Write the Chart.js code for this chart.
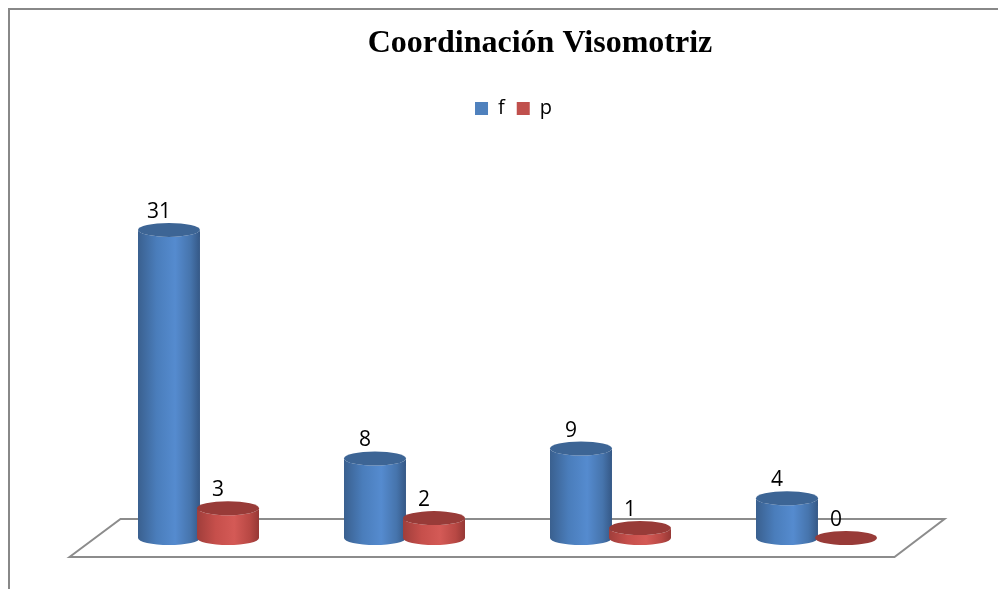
<!DOCTYPE html>
<html>
<head>
<meta charset="utf-8">
<script src="https://cdn.jsdelivr.net/npm/chart.js@4/dist/chart.umd.min.js"></script>
<style>
  html, body { margin: 0; padding: 0; background: #ffffff; overflow: hidden; }
  #wrap { position: relative; width: 998px; height: 589px; }
</style>
</head>
<body>
<div id="wrap"><canvas id="c" width="998" height="589"></canvas></div>
<script>
// ---- data ----
const chartTitle = 'Coordinación Visomotriz';
const categories = ['1', '2', '3', '4'];
const seriesNames = ['f', 'p'];
const fValues = [31, 8, 9, 4];
const pValues = [3, 2, 1, 0];

// ---- styles ----
const legendColors = ['#4F81BD', '#C0504D'];
const bodyStops = [
  [[0, '#3a608f'], [0.3, '#4a7dbb'], [0.6, '#558bcf'], [0.85, '#4674ac'], [1, '#355886']],
  [[0, '#a03e3b'], [0.3, '#c64f4b'], [0.6, '#d45a56'], [0.85, '#b84844'], [1, '#963835']]
];
const topColors = ['#3d6595', '#983b38'];

const cylinderPlugin = {
  id: 'cylinders',
  afterLayout(chart) {
    if (chart.titleBlock) {
      chart.titleBlock.left += 26.5;
      chart.titleBlock.right += 26.5;
    }
  },
  beforeDraw(chart) {
    const ctx = chart.ctx;
    ctx.save();
    ctx.fillStyle = '#ffffff';
    ctx.fillRect(0, 0, chart.width, chart.height);
    ctx.strokeStyle = '#888888';
    ctx.lineWidth = 2;
    ctx.beginPath();
    ctx.moveTo(9, chart.height);
    ctx.lineTo(9, 9);
    ctx.lineTo(chart.width, 9);
    ctx.stroke();
    ctx.restore();
  },
  beforeDatasetsDraw(chart) {
    const ctx = chart.ctx;
    const yb = chart.scales.y.getPixelForValue(0);
    const {left, right} = chart.chartArea;
    ctx.save();
    ctx.strokeStyle = '#8c8c8c';
    ctx.lineWidth = 2;
    ctx.beginPath();
    ctx.moveTo(left - 26, yb + 19);
    ctx.lineTo(left + 25, yb - 19);
    ctx.lineTo(right + 25, yb - 19);
    ctx.lineTo(right - 25, yb + 19);
    ctx.closePath();
    ctx.stroke();
    ctx.restore();
  },
  beforeDatasetDraw() {
    return false;
  },
  afterDatasetsDraw(chart) {
    const ctx = chart.ctx;
    const ry = 7;
    ctx.save();
    chart.data.datasets.forEach((ds, di) => {
      const meta = chart.getDatasetMeta(di);
      meta.data.forEach((el, j) => {
        const x = el.x, top = el.y, base = el.base, rx = el.width / 2;
        // body
        if (base - top > 0.5) {
          const g = ctx.createLinearGradient(x - rx, 0, x + rx, 0);
          bodyStops[di].forEach(s => g.addColorStop(s[0], s[1]));
          ctx.fillStyle = g;
          ctx.beginPath();
          ctx.moveTo(x - rx, top);
          ctx.lineTo(x - rx, base);
          ctx.ellipse(x, base, rx, ry, 0, Math.PI, 0, true);
          ctx.lineTo(x + rx, top);
          ctx.ellipse(x, top, rx, ry, 0, 0, Math.PI, false);
          ctx.closePath();
          ctx.fill();
        }
        // top
        ctx.fillStyle = topColors[di];
        ctx.beginPath();
        ctx.ellipse(x, top, rx, ry, 0, 0, Math.PI * 2);
        ctx.fill();
      });
    });
    // labels
    ctx.fillStyle = '#000000';
    ctx.font = '21px "Open Sans"';
    ctx.textAlign = 'center';
    ctx.textBaseline = 'alphabetic';
    chart.data.datasets.forEach((ds, di) => {
      const meta = chart.getDatasetMeta(di);
      meta.data.forEach((el, j) => {
        ctx.fillText(String(ds.data[j]), el.x - 10, el.y - 12);
      });
    });
    ctx.restore();
  }
};

const hiddenAxis = (w, pos) => ({
  type: 'linear',
  position: pos,
  display: true,
  ticks: { display: false },
  grid: { display: false, drawTicks: false },
  border: { display: false },
  afterFit: s => { s.width = w; }
});

const yLeft = hiddenAxis(66.5, 'left');
yLeft.min = 0;
yLeft.max = 41.2;
const yRight = hiddenAxis(78.5, 'right');

new Chart(document.getElementById('c'), {
  type: 'bar',
  data: {
    labels: categories,
    datasets: [
      { label: seriesNames[0], data: fValues, backgroundColor: legendColors[0], borderWidth: 0 },
      { label: seriesNames[1], data: pValues, backgroundColor: legendColors[1], borderWidth: 0 }
    ]
  },
  options: {
    responsive: false,
    animation: false,
    categoryPercentage: 0.573,
    barPercentage: 1.05,
    layout: { padding: { left: 29, right: 0, top: 0, bottom: 51 } },
    scales: {
      x: { display: false, offset: true },
      y: yLeft,
      y2: yRight
    },
    plugins: {
      title: {
        display: true,
        text: chartTitle,
        color: '#000000',
        font: { family: '"Liberation Serif", "Times New Roman", serif', size: 32, weight: 'bold', lineHeight: 1.25 },
        padding: { top: 24, bottom: 22.5 }
      },
      legend: {
        display: true,
        position: 'top',
        labels: {
          color: '#000000',
          font: { family: '"Open Sans", sans-serif', size: 20 },
          boxWidth: 13,
          boxHeight: 13,
          padding: 12
        }
      },
      tooltip: { enabled: false }
    }
  },
  plugins: [cylinderPlugin]
});
</script>
</body>
</html>
